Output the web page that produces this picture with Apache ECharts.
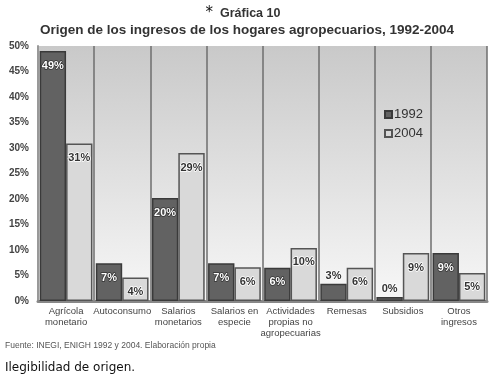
<!DOCTYPE html>
<html><head><meta charset="utf-8">
<script src="https://cdn.jsdelivr.net/npm/echarts@6/dist/echarts.min.js"></script>
<style>html,body{margin:0;padding:0;background:#fff}#c{width:503px;height:381px}</style>
</head><body><div id="c"></div>
<script>
var categories = ['Agrícola\nmonetario','Autoconsumo','Salarios\nmonetarios','Salarios en\nespecie','Actividades\npropias no\nagropecuarias','Remesas','Subsidios','Otros\ningresos'];
var values1992 = [49, 7.4, 20.2, 7.4, 6.5, 3.4, 0.8, 9.4];
var values2004 = [30.9, 4.6, 29.0, 6.6, 10.4, 6.5, 9.4, 5.5];
var labels1992 = ['49%','7%','20%','7%','6%','3%','0%','9%'];
var labels2004 = ['31%','4%','29%','6%','10%','6%','9%','5%'];
var yTicks = [0,5,10,15,20,25,30,35,40,45,50];

var chart = echarts.init(document.getElementById('c'), null, {renderer:'canvas'});
function mk(vals, labs, dark){
  return vals.map(function(v,i){
    var small = v < 5 && dark;
    return {value:v, label:{
      show:true, formatter:labs[i],
      position: small ? 'top' : 'insideTop', distance: small ? 2 : 9,
      color: (dark && !small) ? '#fff' : '#333',
      textBorderColor: (dark && !small) ? '#333' : '#fff', textBorderWidth: 1.5,
      fontFamily:'Liberation Sans', fontWeight:'bold', fontSize:11
    }};
  });
}
chart.setOption({
  animation:false,
  title:[
    {text:'{a|*}  Gráfica 10', left:243, textAlign:'center', top:6, padding:0,
     textStyle:{fontFamily:'Liberation Sans', fontWeight:'bold', fontSize:12.5, color:'#333',
       rich:{a:{fontFamily:'DejaVu Sans', fontWeight:'normal', fontSize:15, color:'#111'}}}},
    {text:'Origen de los ingresos de los hogares agropecuarios, 1992-2004', left:247, textAlign:'center', top:23, padding:0,
     textStyle:{fontFamily:'Liberation Sans', fontWeight:'bold', fontSize:13.5, color:'#333'}},
    {text:'Fuente: INEGI, ENIGH 1992 y 2004. Elaboración propia', left:5, top:341, padding:0,
     textStyle:{fontFamily:'Liberation Sans', fontWeight:'normal', fontSize:8.5, color:'#555'}},
    {text:'Ilegibilidad de origen.', left:5, top:362, padding:0,
     textStyle:{fontFamily:'DejaVu Sans', fontWeight:'normal', fontSize:12, color:'#111'}}
  ],
  legend:{orient:'vertical', left:379, top:103, itemWidth:7, itemHeight:7, itemGap:6,
    icon:'rect', data:['1992','2004'],
    textStyle:{fontFamily:'Liberation Sans', fontSize:13, color:'#333', padding:[0,0,0,-3]}},
  grid:{left:38, right:16, top:46, bottom:80, show:true, borderWidth:0,
    backgroundColor:new echarts.graphic.LinearGradient(0,0,0,1,[{offset:0,color:'#c9c9c9'},{offset:1,color:'#f7f7f7'}])},
  xAxis:{type:'category', data:categories,
    axisLine:{show:true, lineStyle:{color:'#888', width:3}},
    axisTick:{show:false},
    splitLine:{show:true, lineStyle:{color:'#6e6e6e', width:1.5}},
    axisLabel:{interval:0, fontFamily:'Liberation Sans', fontSize:9.5, color:'#444', lineHeight:11, margin:5}},
  yAxis:{type:'value', min:0, max:50, interval:5,
    axisLine:{show:true, lineStyle:{color:'#999', width:2}},
    axisTick:{show:false}, splitLine:{show:false},
    axisLabel:{formatter:function(v){return yTicks.indexOf(v)>=0 ? v+'%' : '';},
      fontFamily:'Liberation Sans', fontWeight:'bold', fontSize:10, color:'#444', margin:9}},
  series:[
    {name:'1992', type:'bar', data:mk(values1992, labels1992, true), barGap:'0%', barCategoryGap:'6%',
     itemStyle:{color:'#626262', borderColor:'#3a3a3a', borderWidth:1.5}},
    {name:'2004', type:'bar', data:mk(values2004, labels2004, false),
     itemStyle:{color:'#d9d9d9', borderColor:'#555', borderWidth:1.5}}
  ]
});
</script></body></html>
